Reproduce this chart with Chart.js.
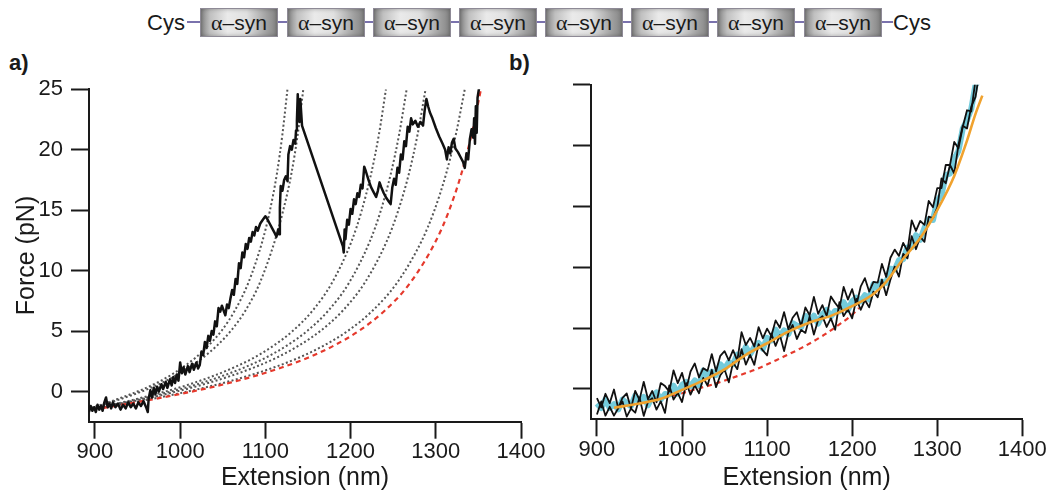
<!DOCTYPE html>
<html>
<head>
<meta charset="utf-8">
<script src="https://cdn.jsdelivr.net/npm/chart.js@4.4.1/dist/chart.umd.min.js"></script>
<style>
  html, body { margin: 0; padding: 0; background: #fff; }
  body { width: 1051px; height: 494px; position: relative; overflow: hidden;
         font-family: "Liberation Sans", Arial, sans-serif; color: #1a1a1a; }
  canvas { position: absolute; top: 0; }
  #chartA { left: 0; }
  #chartB { left: 500px; }
  .panel { position: absolute; font-weight: bold; font-size: 22px; line-height: 22px; }
  .cys { position: absolute; top: 8px; font-size: 22px; line-height: 29px; }
  .box { position: absolute; top: 8px; width: 78px; height: 29px; box-sizing: border-box;
         border: 1px solid #8e8a96; text-align: center; line-height: 27px; font-size: 21px;
         background: linear-gradient(90deg, #858585 0%, #c0c0c0 12%, #eaeaea 35%, #e0e0e0 60%, #a2a2a2 86%, #848484 100%);
         box-shadow: inset 0 0 4px rgba(0,0,0,0.3); }
  .box .al { font-family: "Liberation Serif", "DejaVu Serif", serif; font-size: 22px; }
  .lnk { position: absolute; top: 21px; height: 2px; background: #7a72ad; }
</style>
</head>
<body>
<div class="cys" style="left:147px">Cys</div>
<div class="lnk" style="left:187px;width:13px"></div>
<div class="box" style="left:200px"><span class="al">α</span>–syn</div>
<div class="lnk" style="left:278px;width:9px"></div>
<div class="box" style="left:287px"><span class="al">α</span>–syn</div>
<div class="lnk" style="left:365px;width:8px"></div>
<div class="box" style="left:373px"><span class="al">α</span>–syn</div>
<div class="lnk" style="left:451px;width:8px"></div>
<div class="box" style="left:459px"><span class="al">α</span>–syn</div>
<div class="lnk" style="left:537px;width:8px"></div>
<div class="box" style="left:545px"><span class="al">α</span>–syn</div>
<div class="lnk" style="left:623px;width:8px"></div>
<div class="box" style="left:631px"><span class="al">α</span>–syn</div>
<div class="lnk" style="left:709px;width:8px"></div>
<div class="box" style="left:717px"><span class="al">α</span>–syn</div>
<div class="lnk" style="left:795px;width:9px"></div>
<div class="box" style="left:804px"><span class="al">α</span>–syn</div>
<div class="lnk" style="left:882px;width:11px"></div>
<div class="cys" style="left:893px">Cys</div>

<div class="panel" style="left:9px;top:52px">a)</div>
<div class="panel" style="left:509px;top:52px">b)</div>

<canvas id="chartA" width="546" height="494"></canvas>
<canvas id="chartB" width="551" height="494"></canvas>

<script>
// ---- axis ticks ----
const xTicks = [900, 1000, 1100, 1200, 1300, 1400];
const yTicks = [0, 5, 10, 15, 20, 25];

// ---- panel a: measured trace (extension nm / force pN) ----
const traceAx = [893,895,897,899,901,903,905,907,909,911,913,915,917,919,921,924,927,930,933,936,939,942,945,948,951,954,957,960,962,963,965,967,969,971,973,975,978,980,983,985,988,990,992,994,996,998,1000,1002,1004,1006,1009,1011,1014,1016,1019,1021,1023,1025,1027,1029,1031,1033,1035,1037,1039,1041,1043,1045,1047,1049,1051,1053,1055,1057,1059,1061,1063,1065,1067,1069,1071,1073,1075,1077,1079,1081,1083,1085,1087,1089,1091,1094,1097,1100,1102,1105,1108,1111,1113,1115,1116,1117,1118,1120,1122,1124,1126,1127,1129,1131,1133,1135,1136,1137,1138,1139,1140,1141,1143,1191,1192,1193,1194,1196,1198,1200,1202,1204,1206,1208,1210,1212,1214,1216,1218,1221,1224,1227,1230,1232,1234,1236,1239,1242,1245,1247,1249,1251,1253,1255,1257,1259,1261,1263,1265,1267,1269,1271,1273,1276,1279,1282,1285,1287,1289,1291,1293,1296,1300,1304,1308,1311,1313,1315,1317,1319,1321,1323,1326,1329,1332,1334,1336,1338,1340,1342,1344,1345,1346,1347,1348,1349,1351];
const traceAf = [-1.7,-1.2,-1.6,-1.3,-1.7,-1.1,-1.5,-1.2,-1.6,-0.9,-0.5,-1.3,-1.0,-1.4,-0.9,-1.3,-1.0,-1.5,-1.1,-1.4,-0.9,-1.3,-1.0,-1.4,-0.9,-1.2,-0.8,-1.3,-1.7,-0.6,0.1,-0.5,0.3,-0.2,0.4,0.0,0.6,0.2,0.8,0.3,1.0,0.5,1.2,0.7,1.4,0.9,2.4,1.5,2.0,1.4,2.1,1.6,2.3,1.8,2.4,1.9,2.2,3.3,3.0,4.1,3.6,4.6,4.2,5.0,4.7,5.8,5.4,6.9,6.6,7.1,6.7,6.3,7.2,6.9,7.7,8.4,8.0,9.3,8.9,10.6,10.2,11.5,11.1,12.2,11.8,12.7,12.4,13.2,12.9,13.6,13.3,13.9,14.2,14.5,14.3,13.9,13.5,13.1,12.8,13.4,13.0,15.2,17.0,16.6,17.5,17.8,17.4,19.6,20.3,20.0,20.8,20.5,21.6,22.4,24.6,22.8,22.3,24.2,22.0,12.0,11.5,13.4,12.6,14.2,13.8,15.1,14.7,15.9,15.5,16.4,16.1,17.1,16.8,18.6,18.2,17.5,16.9,16.5,16.1,16.6,17.3,16.9,16.4,16.0,15.7,15.5,16.9,17.6,17.1,18.5,18.1,19.6,19.2,20.7,20.3,21.9,21.5,22.6,22.1,22.4,21.9,22.3,22.0,23.3,24.2,23.6,23.1,22.6,21.8,21.1,20.5,20.0,19.2,20.2,19.7,20.6,20.9,20.1,19.8,19.4,19.0,18.5,19.7,19.2,20.9,21.7,21.0,22.6,20.5,23.6,21.4,24.3,25.2];

// ---- panel a: chain-model curves (dotted), shared force levels ----
const fitF = [-1.36,-1.00,-0.62,-0.21,0.24,0.75,1.33,2.00,2.79,3.78,5.02,6.68,8.99,12.44,14.86,18.01,21.28,25.0];
const fit1x = [895.6,911.2,926.8,942.4,958.0,973.6,988.5,1003.0,1018.0,1033.0,1048.5,1064.0,1080.0,1096.5,1105.0,1113.5,1120.0,1125.9];
const fit2x = [896.8,913.6,930.4,947.1,963.5,979.5,995.0,1010.5,1026.5,1043.0,1059.5,1076.5,1093.5,1111.0,1120.5,1130.5,1138.0,1144.5];
const fit3x = [902.9,925.9,948.8,971.8,994.7,1017.6,1040.6,1063.5,1086.5,1109.4,1132.3,1155.3,1178.2,1201.2,1212.6,1224.1,1233.3,1241.5];
const fit4x = [904.5,929.0,953.4,977.9,1002.4,1026.9,1051.4,1075.8,1100.3,1124.8,1149.3,1173.8,1198.2,1222.7,1235.0,1247.2,1257.0,1265.8];
const fit5x = [905.9,931.8,957.7,983.6,1009.5,1035.3,1061.2,1087.1,1113.0,1138.9,1164.8,1190.7,1216.6,1242.5,1255.4,1268.4,1278.7,1288.0];
const fit6x = [908.8,937.6,966.4,995.2,1024.0,1052.8,1081.6,1110.4,1139.2,1168.1,1196.9,1225.7,1254.5,1283.3,1297.7,1312.1,1323.6,1334.0];
// red dashed reference curve, panel a
const refAx = [910,940,970,1000,1030,1060,1090,1120,1150,1180,1210,1240,1270,1300,1315,1330,1342,1353];

// ---- panel b: three repeated traces sampled every 5 nm ----
const gridB = [900,905,910,915,920,925,930,935,940,945,950,955,960,965,970,975,980,985,990,995,1000,1005,1010,1015,1020,1025,1030,1035,1040,1045,1050,1055,1060,1065,1070,1075,1080,1085,1090,1095,1100,1105,1110,1115,1120,1125,1130,1135,1140,1145,1150,1155,1160,1165,1170,1175,1180,1185,1190,1195,1200,1205,1210,1215,1220,1225,1230,1235,1240,1245,1250,1255,1260,1265,1270,1275,1280,1285,1290,1295,1300,1305,1310,1315,1320,1325,1330,1335,1340,1345,1350];
const traceB1 = [-0.75,-1.53,-0.4,-1.17,-0.05,-1.59,-0.73,-0.38,-1.62,-0.16,-0.9,0.58,-0.85,-0.17,-1.1,0.48,0.23,-0.22,1.52,0.47,1.32,-0.02,1.43,2.09,0.94,1.7,1.48,2.86,1.44,2.72,3.1,2.34,3.18,2.32,4.66,3.6,4.19,3.48,5.07,4.16,4.95,4.34,5.63,5.02,6.31,4.9,5.85,6.3,5.15,6.7,6.05,7.56,6.17,6.88,5.99,7.6,7.06,6.62,8.38,7.34,8.2,6.9,8.4,9.1,8.0,8.8,8.73,10.27,9.2,10.78,11.45,10.93,12.0,11.33,13.85,12.98,13.8,13.48,15.45,14.93,16.5,16.5,18.4,18.4,20.3,19.77,21.53,22.9,22.8,25.4,25.6];
const traceB2 = [-2.1,-1.03,-2.2,-1.47,-2.2,-1.59,-1.03,-2.28,-1.62,-1.96,-0.7,-2.22,-1.05,-0.77,-1.7,-1.02,-1.97,0.28,-0.88,-0.33,-1.08,0.48,-0.47,0.29,-0.36,0.9,0.28,1.56,0.14,1.12,1.6,0.54,2.18,1.62,3.26,2.0,2.79,1.98,3.67,3.16,2.75,4.54,3.53,4.42,3.11,4.6,5.25,4.1,4.85,4.6,5.95,4.46,5.67,5.98,5.09,5.8,4.86,7.12,5.98,6.54,5.8,7.4,6.5,7.3,6.7,8.0,7.53,8.97,7.7,8.98,10.05,9.23,11.1,10.73,12.55,11.48,12.5,12.08,14.15,14.03,14.9,17.3,16.9,18.4,17.7,20.07,21.63,21.4,23.2,24.0,26.2];
const traceCyan = [-1.2,-1.58,-0.85,-1.57,-1.25,-1.69,-0.88,-1.18,-1.42,-0.56,-1.1,-0.67,-1.35,-0.62,-0.3,-0.87,-0.42,-0.47,0.27,-0.38,0.32,0.58,0.23,0.69,0.29,1.5,1.03,1.41,1.14,2.02,1.65,2.19,2.03,2.82,2.66,3.45,2.84,3.43,3.77,3.31,4.2,3.99,4.88,4.32,4.81,4.5,5.4,5.2,5.05,6.0,5.55,6.01,5.37,6.13,6.49,5.95,6.41,6.37,7.13,6.49,7.2,7.5,7.2,7.7,7.35,8.6,8.28,8.82,8.7,9.88,9.8,10.58,10.65,11.63,11.65,12.63,12.25,13.23,13.95,13.88,15.45,15.95,17.55,17.7,18.9,19.57,21.38,22.1,23.0,25.0,25.4];
// smooth fit through the traces (orange)
const smoothBx = [920,950,975,1000,1025,1050,1075,1100,1125,1150,1175,1200,1225,1240,1260,1280,1300,1320,1335,1345,1353];
const smoothBf = [-1.55,-1.2,-0.82,-0.08,0.7,1.6,2.8,3.75,4.7,5.45,6.0,6.8,7.8,8.8,10.7,12.4,14.7,17.5,20.4,22.6,24.1];
// red dashed reference curve, panel b
const refBx = [916,935,955,975,995,1015,1040,1065,1090,1115,1140,1165,1185,1200,1208];
const refBf = [-1.55,-1.35,-1.1,-0.8,-0.45,-0.05,0.45,1.05,1.7,2.5,3.35,4.35,5.3,6.1,6.65];

// ---- helpers ----
const pts = (xs, ys) => xs.map((x, i) => ({ x: x, y: ys[i] }));
const INK = '#1a1a1a';
const FONT = '"Liberation Sans", Arial, sans-serif';

function scalesFor(o) {
  return {
    x: {
      type: 'linear', min: 893, max: 1400,
      afterBuildTicks: s => { s.ticks = xTicks.map(v => ({ value: v })); },
      afterFit: s => { s.height = o.xh; },
      grid: { drawOnChartArea: false, drawTicks: true, tickLength: 17, tickWidth: 2, tickColor: INK },
      border: { display: true, color: INK, width: 2 },
      ticks: { color: INK, font: { family: FONT, size: 22 }, padding: 0, maxRotation: 0, autoSkip: false,
               callback: v => String(v) },
      title: { display: true, text: 'Extension (nm)', color: INK, font: { family: FONT, size: 25 },
               padding: { top: 0, bottom: 1 } }
    },
    y: {
      type: 'linear', min: -2.5, max: 25,
      afterBuildTicks: s => { s.ticks = yTicks.map(v => ({ value: v })); },
      afterFit: s => { s.width = o.yw; },
      grid: { drawOnChartArea: false, drawTicks: true, tickLength: 18, tickWidth: 2, tickColor: INK },
      border: { display: true, color: INK, width: 2 },
      ticks: { display: o.labels, color: INK, font: { family: FONT, size: 22 }, padding: 8,
               callback: v => String(v) },
      title: { display: o.labels, text: 'Force (pN)', color: INK, font: { family: FONT, size: 25 },
               padding: { top: 12, bottom: 0 } }
    }
  };
}

function line(data, color, width, extra) {
  return Object.assign({ data: data, borderColor: color, borderWidth: width, pointRadius: 0,
                         fill: false, tension: 0, borderCapStyle: 'butt', borderJoinStyle: 'round' }, extra || {});
}

const baseOptions = {
  responsive: false, animation: false, events: [],
  plugins: { legend: { display: false }, tooltip: { enabled: false } }
};

const dotted = { borderDash: [2, 2.4], cubicInterpolationMode: 'monotone', order: 5 };
const GREY = '#555555';
const RED = '#e5392c';

new Chart(document.getElementById('chartA'), {
  type: 'line',
  data: {
    datasets: [
      line(pts(traceAx, traceAf), '#111111', 2.5, { order: 0 }),
      line(pts(fit1x, fitF), GREY, 2, dotted),
      line(pts(fit2x, fitF), GREY, 2, dotted),
      line(pts(fit3x, fitF), GREY, 2, dotted),
      line(pts(fit4x, fitF), GREY, 2, dotted),
      line(pts(fit5x, fitF), GREY, 2, dotted),
      line(pts(fit6x, fitF), GREY, 2, dotted),
      line(pts(refAx, fitF), RED, 2.2, { borderDash: [5, 4], cubicInterpolationMode: 'monotone', order: 4 })
    ]
  },
  options: Object.assign({}, baseOptions, {
    layout: { padding: { top: 89.3, right: 25, left: 0, bottom: 0 } },
    scales: scalesFor({ xh: 72.3, yw: 89, labels: true })
  })
});

new Chart(document.getElementById('chartB'), {
  type: 'line',
  data: {
    datasets: [
      line(pts(smoothBx, smoothBf), '#f0a22e', 2.6, { cubicInterpolationMode: 'monotone', order: 0 }),
      line(pts(gridB, traceB1), '#111111', 1.8, { order: 1 }),
      line(pts(gridB, traceB2), '#111111', 1.8, { order: 2 }),
      line(pts(gridB, traceCyan), '#74cbdb', 6, { order: 3 }),
      line(pts(refBx, refBf), RED, 2.2, { borderDash: [5, 4], cubicInterpolationMode: 'monotone', order: 4 })
    ]
  },
  options: Object.assign({}, baseOptions, {
    layout: { padding: { top: 84.7, right: 28.7, left: 0, bottom: 0 } },
    scales: scalesFor({ xh: 74.7, yw: 91, labels: false })
  })
});
</script>
</body>
</html>
